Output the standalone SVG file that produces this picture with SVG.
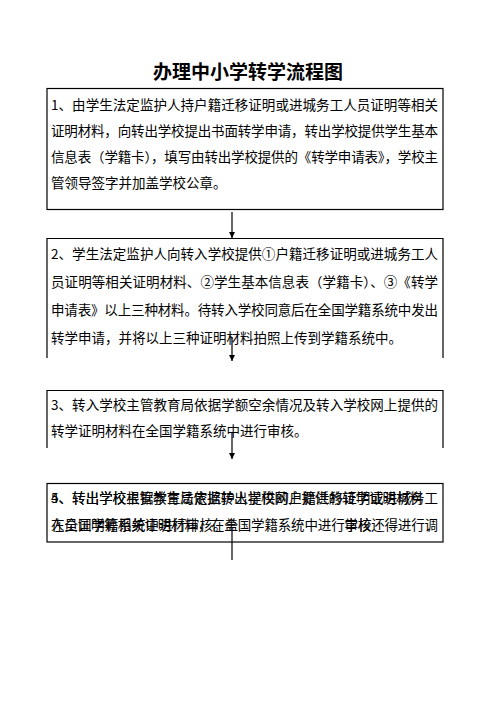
<svg xmlns="http://www.w3.org/2000/svg" width="496" height="702" viewBox="0 0 496 702">
<style>
.bg{fill:#ffffff}
.box{fill:none;stroke:#000;stroke-width:1.2}
.t{font-family:"Noto Sans CJK SC","Noto Sans",sans-serif;font-size:13.5px;fill:#000}
.title{font-family:"Noto Sans CJK SC","Noto Sans",sans-serif;font-size:19px;font-weight:bold;fill:#000}
.conn{stroke:#000;stroke-width:1.2;fill:none}
</style>
<defs>
<marker id="ah" viewBox="0 0 6 6" refX="6" refY="3" markerWidth="6" markerHeight="6" markerUnits="userSpaceOnUse" orient="auto">
<path d="M0,0 L6,3 L0,6 z" fill="#000"/>
</marker>
</defs>
<rect class="bg" x="0" y="0" width="496" height="702"/>
<text class="title" x="248" y="79" text-anchor="middle">办理中小学转学流程图</text>

<g id="step1">
<rect class="box" x="47" y="88.5" width="396" height="121"/>
<text class="t" x="51" y="110" textLength="387" lengthAdjust="spacing">1、由学生法定监护人持户籍迁移证明或进城务工人员证明等相关</text>
<text class="t" x="51" y="136" textLength="387" lengthAdjust="spacing">证明材料，向转出学校提出书面转学申请，转出学校提供学生基本</text>
<text class="t" x="51" y="162" textLength="387" lengthAdjust="spacing">信息表（学籍卡），填写由转出学校提供的《转学申请表》，学校主</text>
<text class="t" x="51" y="188">管领导签字并加盖学校公章。</text>
</g>

<g id="step2">
<path class="box" d="M47,358 V238.5 H443 V358"/>
<text class="t" x="51" y="259" textLength="387" lengthAdjust="spacing">2、学生法定监护人向转入学校提供①户籍迁移证明或进城务工人</text>
<text class="t" x="51" y="287" textLength="387" lengthAdjust="spacing">员证明等相关证明材料、②学生基本信息表（学籍卡）、③《转学</text>
<text class="t" x="51" y="315" textLength="387" lengthAdjust="spacing">申请表》以上三种材料。待转入学校同意后在全国学籍系统中发出</text>
<text class="t" x="51" y="343">转学申请，并将以上三种证明材料拍照上传到学籍系统中。</text>
</g>

<g id="step3">
<path class="box" d="M47,448 V390.5 H443 V448"/>
<text class="t" x="51" y="410" textLength="387" lengthAdjust="spacing">3、转入学校主管教育局依据学额空余情况及转入学校网上提供的</text>
<text class="t" x="51" y="436">转学证明材料在全国学籍系统中进行审核。</text>
</g>

<g id="step4">
<rect class="box" x="47" y="483.5" width="396" height="58.5"/>
<text class="t" x="51" y="503">4、转出学校主管教育局依据转出学校网上提供的转学证明材料</text>
<text class="t" x="51" y="503" textLength="387" lengthAdjust="spacing">5、转出学校根据学生法定监护人提供的户籍迁移证明或进城务工</text>
<text class="t" x="51" y="530">在全国学籍系统中进行审核。</text>
<text class="t" x="51" y="530" textLength="387" lengthAdjust="spacing">人员证明等相关证明材料，在全国学籍系统中进行审核还得进行调</text>
<text class="t" x="224.5" y="530">盖</text>
<text class="t" x="344.5" y="530">学校</text>
</g>

<g id="connectors">
<line class="conn" x1="232" y1="212" x2="232" y2="238" marker-end="url(#ah)"/>
<line class="conn" x1="232" y1="337" x2="232" y2="361" marker-end="url(#ah)"/>
<line class="conn" x1="232" y1="432" x2="232" y2="459" marker-end="url(#ah)"/>
<line class="conn" x1="232" y1="530" x2="232" y2="560"/>
</g>
</svg>
